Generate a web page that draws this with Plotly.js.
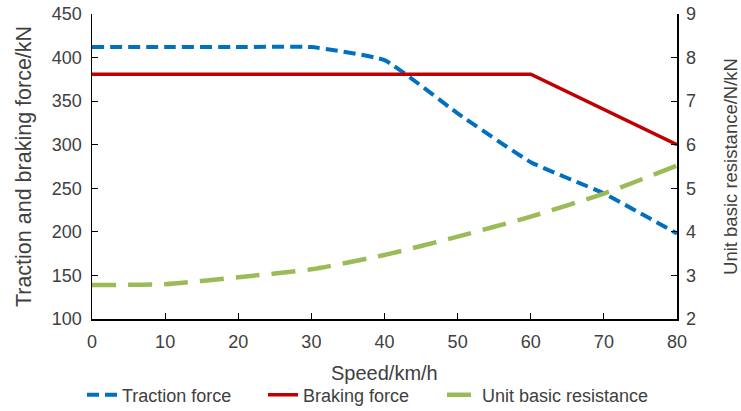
<!DOCTYPE html>
<html>
<head>
<meta charset="utf-8">
<script src="https://cdn.plot.ly/plotly-3.0.1.min.js"></script>
<style>html,body{margin:0;padding:0;background:#fff;}#chart{width:741px;height:411px;}</style>
</head>
<body>
<div id="chart"></div>
<script>
const speed = [0, 10, 20, 30, 40, 50, 60, 70, 80];
const tractionForce = [412, 412, 412, 412, 397, 336, 280, 244, 198];
const brakingSpeed = [0, 60, 80];
const brakingForce = [381, 381, 300];
const unitResistance = [2.78, 2.80, 2.96, 3.14, 3.47, 3.89, 4.35, 4.88, 5.52];
const xTitle = 'Speed/km/h';

const fam = 'Liberation Sans, Arial, sans-serif';
const col = '#404040';
const tickFont = {family: fam, size: 18, color: col};
const W = 741;

const traces = [
  {x: speed, y: tractionForce, name: 'Traction force', type: 'scatter', mode: 'lines', legend: 'legend',
   line: {color: '#0070C0', width: 4, dash: '12px,6px', shape: 'spline', smoothing: 0.4}},
  {x: brakingSpeed, y: brakingForce, name: 'Braking force', type: 'scatter', mode: 'lines', legend: 'legend2',
   line: {color: '#C00000', width: 3.5}},
  {x: speed, y: unitResistance, name: 'Unit basic resistance', type: 'scatter', mode: 'lines', yaxis: 'y2', legend: 'legend3',
   line: {color: '#9BBB59', width: 4.5, dash: '24px,12px', shape: 'spline', smoothing: 0.6}}
];

function leg(px) {
  return {orientation: 'h', x: px / W, xref: 'container', xanchor: 'left',
          y: 0.039, yref: 'container', yanchor: 'middle', bgcolor: 'rgba(0,0,0,0)',
          font: {family: fam, size: 18, color: col}, itemwidth: 30};
}

const layout = {
  width: 741, height: 411,
  margin: {l: 92, r: 64, t: 14, b: 92},
  paper_bgcolor: '#fff', plot_bgcolor: '#fff',
  font: {family: fam, size: 18, color: col},
  showlegend: true,
  legend: leg(82), legend2: leg(263), legend3: leg(442),
  annotations: [{text: xTitle, xref: 'paper', yref: 'paper', x: 0.5, y: -0.177,
                 xanchor: 'center', yanchor: 'middle', showarrow: false,
                 font: {family: fam, size: 20, color: col}}],
  xaxis: {range: [0, 80], tickvals: [0,10,20,30,40,50,60,70,80], showgrid: false, zeroline: false,
          showline: true, linecolor: '#000', linewidth: 1.5, ticks: 'inside', ticklen: 6, tickcolor: '#000',
          ticklabelstandoff: 6, tickfont: tickFont},
  yaxis: {range: [100, 450], dtick: 50, showgrid: false, zeroline: false,
          showline: true, linecolor: '#000', linewidth: 1.5, ticks: 'inside', ticklen: 6, tickcolor: '#000',
          ticklabelstandoff: 5,
          tickfont: tickFont, title: {text: 'Traction and braking force/kN', font: {family: fam, size: 21.5, color: col}, standoff: 14}},
  yaxis2: {range: [2, 9], dtick: 1, overlaying: 'y', side: 'right', showgrid: false, zeroline: false,
           showline: true, linecolor: '#000', linewidth: 1.5, ticks: 'inside', ticklen: 6, tickcolor: '#000',
           ticklabelstandoff: 4,
           tickfont: tickFont, title: {text: 'Unit basic resistance/N/kN', font: {family: fam, size: 18.5, color: col}, standoff: 32}}
};

Plotly.newPlot('chart', traces, layout, {displayModeBar: false, staticPlot: true});
</script>
</body>
</html>
